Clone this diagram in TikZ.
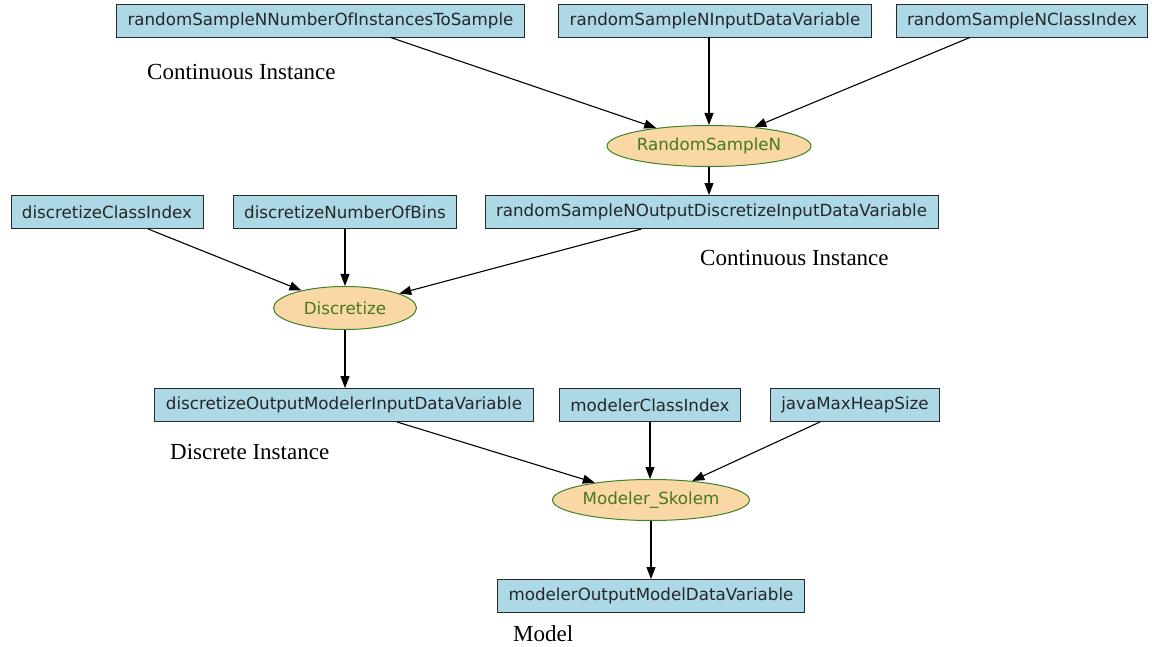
\documentclass[tikz,border=0pt]{standalone}
\usepackage{fontspec}
\setmainfont{Liberation Serif}
\newfontfamily\boxfont{DejaVu Sans}
\usetikzlibrary{shapes.geometric,arrows.meta}
\definecolor{boxfill}{RGB}{173,216,230}
\definecolor{boxline}{RGB}{40,40,40}
\definecolor{opfill}{RGB}{249,216,165}
\definecolor{opline}{RGB}{60,130,40}
\definecolor{optext}{RGB}{70,120,30}
\tikzset{
  var/.style={draw=boxline, fill=boxfill, line width=0.9pt, minimum height=33pt,
    inner xsep=11pt, inner ysep=0pt, font=\boxfont\fontsize{16.7}{18}\selectfont, text=black!85},
  op/.style={ellipse, draw=opline, fill=opfill, line width=1pt, inner sep=0pt,
    font=\boxfont\fontsize{16.7}{18}\selectfont, text=optext},
  lbl/.style={font=\fontsize{23}{26}\selectfont, inner sep=0pt},
  edge/.style={draw=black, line width=1.1pt, -{Triangle[length=12pt,width=9pt]}}
}
\begin{document}
\begin{tikzpicture}[x=1pt,y=-1pt]
\useasboundingbox (0,0) rectangle (1152,647);

% first row of inputs
\node[var] (nInst) at (320.5,20.5) {randomSampleNNumberOfInstancesToSample};
\node[var] (rsIn) at (715,20.5) {randomSampleNInputDataVariable};
\node[var] (rsCls) at (1022,20.5) {randomSampleNClassIndex};
\node[lbl, anchor=west] (lc1) at (147,72) {Continuous Instance};

\node[op, minimum width=200pt, minimum height=41pt] (rs) at (709,146) {RandomSampleN};

% second row
\node[var] (dCls) at (107,212) {discretizeClassIndex};
\node[var] (dBins) at (345,212) {discretizeNumberOfBins};
\node[var] (rsOut) at (711.5,212) {randomSampleNOutputDiscretizeInputDataVariable};
\node[lbl, anchor=west] (lc2) at (700,258) {Continuous Instance};

\node[op, minimum width=143pt, minimum height=43pt] (disc) at (345,308) {Discretize};

% third row
\node[var] (dOut) at (344,405) {discretizeOutputModelerInputDataVariable};
\node[var] (mCls) at (650,405) {modelerClassIndex};
\node[var] (heap) at (855,405) {javaMaxHeapSize};
\node[lbl, anchor=west] (ld) at (170,452) {Discrete Instance};

\node[op, minimum width=197pt, minimum height=41pt] (mod) at (651,500) {Modeler\_Skolem};

% result
\node[var] (mOut) at (651,596) {modelerOutputModelDataVariable};
\node[lbl, anchor=west] (lm) at (513,634) {Model};

% connectors
\draw[edge] ([xshift=70pt]nInst.south) -- (rs);
\draw[edge] (rsIn.south -| rs.north) -- (rs.north);
\draw[edge] ([xshift=-52pt]rsCls.south) -- (rs);
\draw[edge] (rs.south) -- (rsOut.north -| rs.south);
\draw[edge] ([xshift=41pt]dCls.south) -- (disc);
\draw[edge] (dBins.south) -- (disc.north);
\draw[edge] ([xshift=-70pt]rsOut.south) -- (disc);
\draw[edge] (disc.south) -- (dOut.north -| disc.south);
\draw[edge] ([xshift=53pt]dOut.south) -- (mod);
\draw[edge] (mCls.south) -- (mod.north -| mCls.south);
\draw[edge] ([xshift=-35pt]heap.south) -- (mod);
\draw[edge] (mod.south) -- (mOut.north -| mod.south);
\end{tikzpicture}
\end{document}
